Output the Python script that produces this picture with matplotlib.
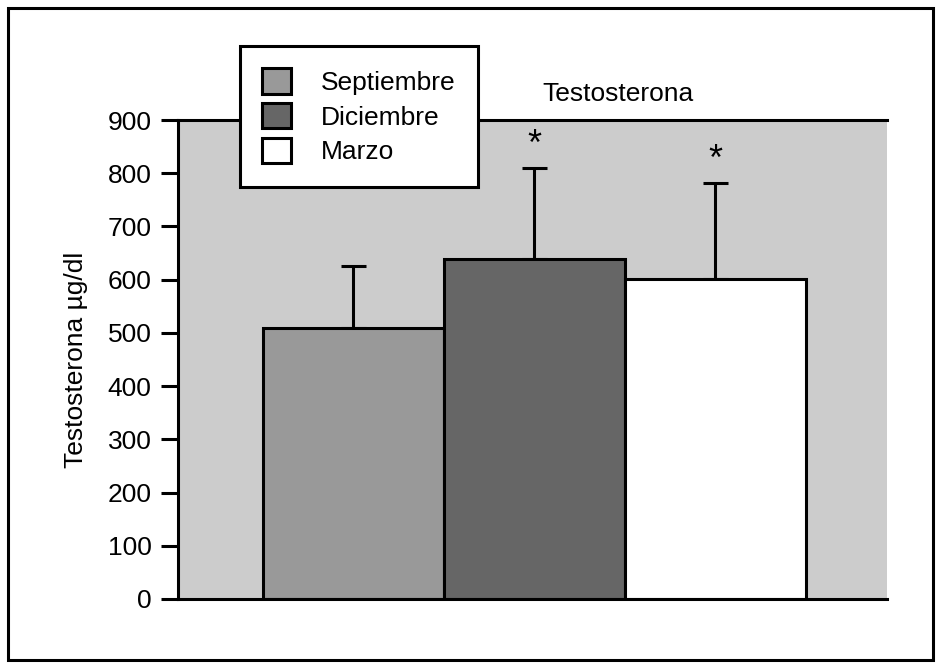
import matplotlib
matplotlib.use("Agg")
import matplotlib.pyplot as plt
from matplotlib.patches import Rectangle, Patch

plt.rcParams['font.family'] = ['Liberation Sans', 'DejaVu Sans']

meses = ['Septiembre', 'Diciembre', 'Marzo']
valores = [510, 638, 601]
errores = [116, 172, 180]
significativo = [False, True, True]
colores = ['#999999', '#666666', '#ffffff']

fig = plt.figure(figsize=(9.43, 6.68), dpi=100)
fig.patches.append(Rectangle((8 / 943, 8 / 668), 925 / 943, 652 / 668,
                             transform=fig.transFigure, fill=False,
                             edgecolor='black', linewidth=2.2))

ax = fig.add_axes([178 / 943, 69 / 668, 709 / 943, 479 / 668])
ax.set_facecolor('#cccccc')

x = list(range(len(meses)))
bars = ax.bar(x, valores, width=1.0, color=colores, edgecolor='black',
              linewidth=2.2, zorder=2)
ax.errorbar(x, valores, yerr=[[0] * 3, errores], fmt='none', ecolor='black',
            elinewidth=2.2, capsize=9, capthick=2.2, zorder=1)
for xi, v, e, s in zip(x, valores, errores, significativo):
    if s:
        ax.text(xi, v + e + 10, '*', ha='center', va='bottom', fontsize=26)

ax.set_xlim(-0.97, 2.95)
ax.set_ylim(0, 900)
ax.set_yticks(range(0, 901, 100))
ax.set_xticks([])
ax.tick_params(axis='y', labelsize=19, length=12, width=2.2, direction='out', pad=7)
ax.set_ylabel('Testosterona µg/dl', fontsize=19, labelpad=14)
ax.set_title('Testosterona', fontsize=19, x=0.62, pad=14)

for side in ['left', 'bottom', 'top']:
    ax.spines[side].set_linewidth(2.2)
ax.spines['right'].set_visible(False)

handles = [Patch(facecolor=c, edgecolor='black', linewidth=2.2) for c in colores]
leg = fig.legend(handles, meses, loc='upper left',
                 bbox_to_anchor=(240 / 943, 1 - 46 / 668), borderaxespad=0,
                 fontsize=19, handlelength=1.1, handleheight=1.1,
                 handletextpad=1.1, labelspacing=0.3, borderpad=0.85,
                 fancybox=False, framealpha=1, edgecolor='black')
leg.get_frame().set_linewidth(2.2)

fig.savefig('out.png', dpi=100)
